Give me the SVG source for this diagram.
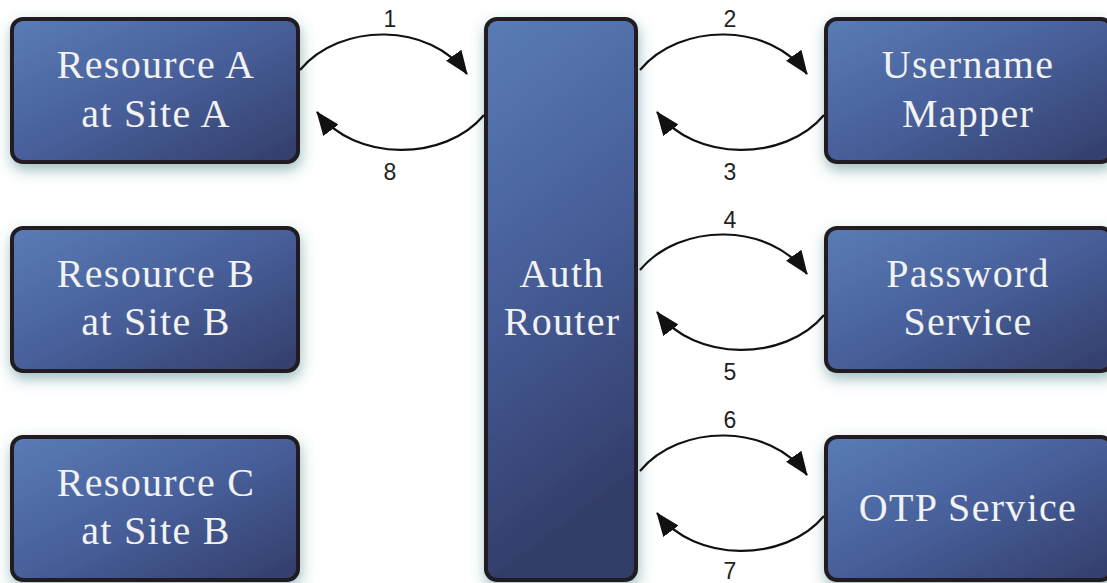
<svg xmlns="http://www.w3.org/2000/svg" width="1107" height="583" viewBox="0 0 1107 583">
  <defs>
    <linearGradient id="boxFill" x1="0" y1="0" x2="1" y2="1">
      <stop offset="0" stop-color="#5a7cb6"/>
      <stop offset="0.5" stop-color="#475f9a"/>
      <stop offset="1" stop-color="#333d69"/>
    </linearGradient>
    <linearGradient id="routerFill" x1="0" y1="0" x2="0.2" y2="1">
      <stop offset="0" stop-color="#5a7cb6"/>
      <stop offset="0.5" stop-color="#465d98"/>
      <stop offset="1" stop-color="#323c68"/>
    </linearGradient>
    <filter id="glow" x="-20%" y="-20%" width="140%" height="150%">
      <feDropShadow dx="1" dy="6" stdDeviation="7" flood-color="#3c7c80" flood-opacity="0.5"/>
    </filter>
    <marker id="head" viewBox="0 0 24 19" refX="23" refY="9.5" markerWidth="24" markerHeight="19" markerUnits="userSpaceOnUse" orient="auto">
      <path d="M0,0 L24,9.5 L0,19 Z" fill="#111"/>
    </marker>
    <style>
      .box { fill: url(#boxFill); stroke: #231f20; stroke-width: 4; filter: url(#glow); }
      .router { fill: url(#routerFill); }
      .label { font-family: "Liberation Serif", "Times New Roman", serif; font-size: 40px; letter-spacing: 1.3px; fill: #f2f2f2; text-anchor: middle; }
      .num { font-family: "Liberation Sans", Arial, sans-serif; font-size: 23px; fill: #231f20; text-anchor: middle; }
      .edge { fill: none; stroke: #111; stroke-width: 2.2; marker-end: url(#head); }
    </style>
  </defs>

  <rect width="1107" height="583" fill="#ffffff"/>

  <g id="resource-a">
    <rect class="box" x="12" y="19" width="286" height="143" rx="11"/>
    <text class="label" x="156" y="78">Resource A</text>
    <text class="label" x="156" y="127">at Site A</text>
  </g>
  <g id="resource-b">
    <rect class="box" x="12" y="228" width="286" height="143" rx="11"/>
    <text class="label" x="156" y="287">Resource B</text>
    <text class="label" x="156" y="335">at Site B</text>
  </g>
  <g id="resource-c">
    <rect class="box" x="12" y="437" width="286" height="143" rx="11"/>
    <text class="label" x="156" y="496">Resource C</text>
    <text class="label" x="156" y="544">at Site B</text>
  </g>
  <g id="auth-router">
    <rect class="box router" x="486" y="19" width="150" height="561" rx="11"/>
    <text class="label" x="562" y="287">Auth</text>
    <text class="label" x="562" y="335">Router</text>
  </g>
  <g id="username-mapper">
    <rect class="box" x="826" y="19" width="286" height="143" rx="11"/>
    <text class="label" x="968" y="78">Username</text>
    <text class="label" x="968" y="127">Mapper</text>
  </g>
  <g id="password-service">
    <rect class="box" x="826" y="228" width="286" height="143" rx="11"/>
    <text class="label" x="968" y="287">Password</text>
    <text class="label" x="968" y="335">Service</text>
  </g>
  <g id="otp-service">
    <rect class="box" x="826" y="437" width="286" height="143" rx="11"/>
    <text class="label" x="968" y="521">OTP Service</text>
  </g>

  <g id="connectors">
    <!-- resource A <-> router -->
    <path class="edge" d="M300,70 C340,22 430,22 467,74"/>
    <path class="edge" d="M484,115 C445,162 355,162 317,112"/>
    <text class="num" x="390" y="27">1</text>
    <text class="num" x="390" y="180">8</text>

    <!-- router <-> username mapper -->
    <path class="edge" d="M640,70 C680,22 770,22 807,74"/>
    <path class="edge" d="M824,115 C785,162 695,162 657,112"/>
    <text class="num" x="730" y="27">2</text>
    <text class="num" x="730" y="180">3</text>

    <!-- router <-> password service -->
    <path class="edge" d="M640,270 C680,222 770,222 807,274"/>
    <path class="edge" d="M824,315 C785,362 695,362 657,312"/>
    <text class="num" x="730" y="228">4</text>
    <text class="num" x="730" y="380">5</text>

    <!-- router <-> OTP service -->
    <path class="edge" d="M640,471 C680,423 770,423 807,475"/>
    <path class="edge" d="M824,516 C785,563 695,563 657,513"/>
    <text class="num" x="730" y="428">6</text>
    <text class="num" x="730" y="579">7</text>
  </g>
</svg>
